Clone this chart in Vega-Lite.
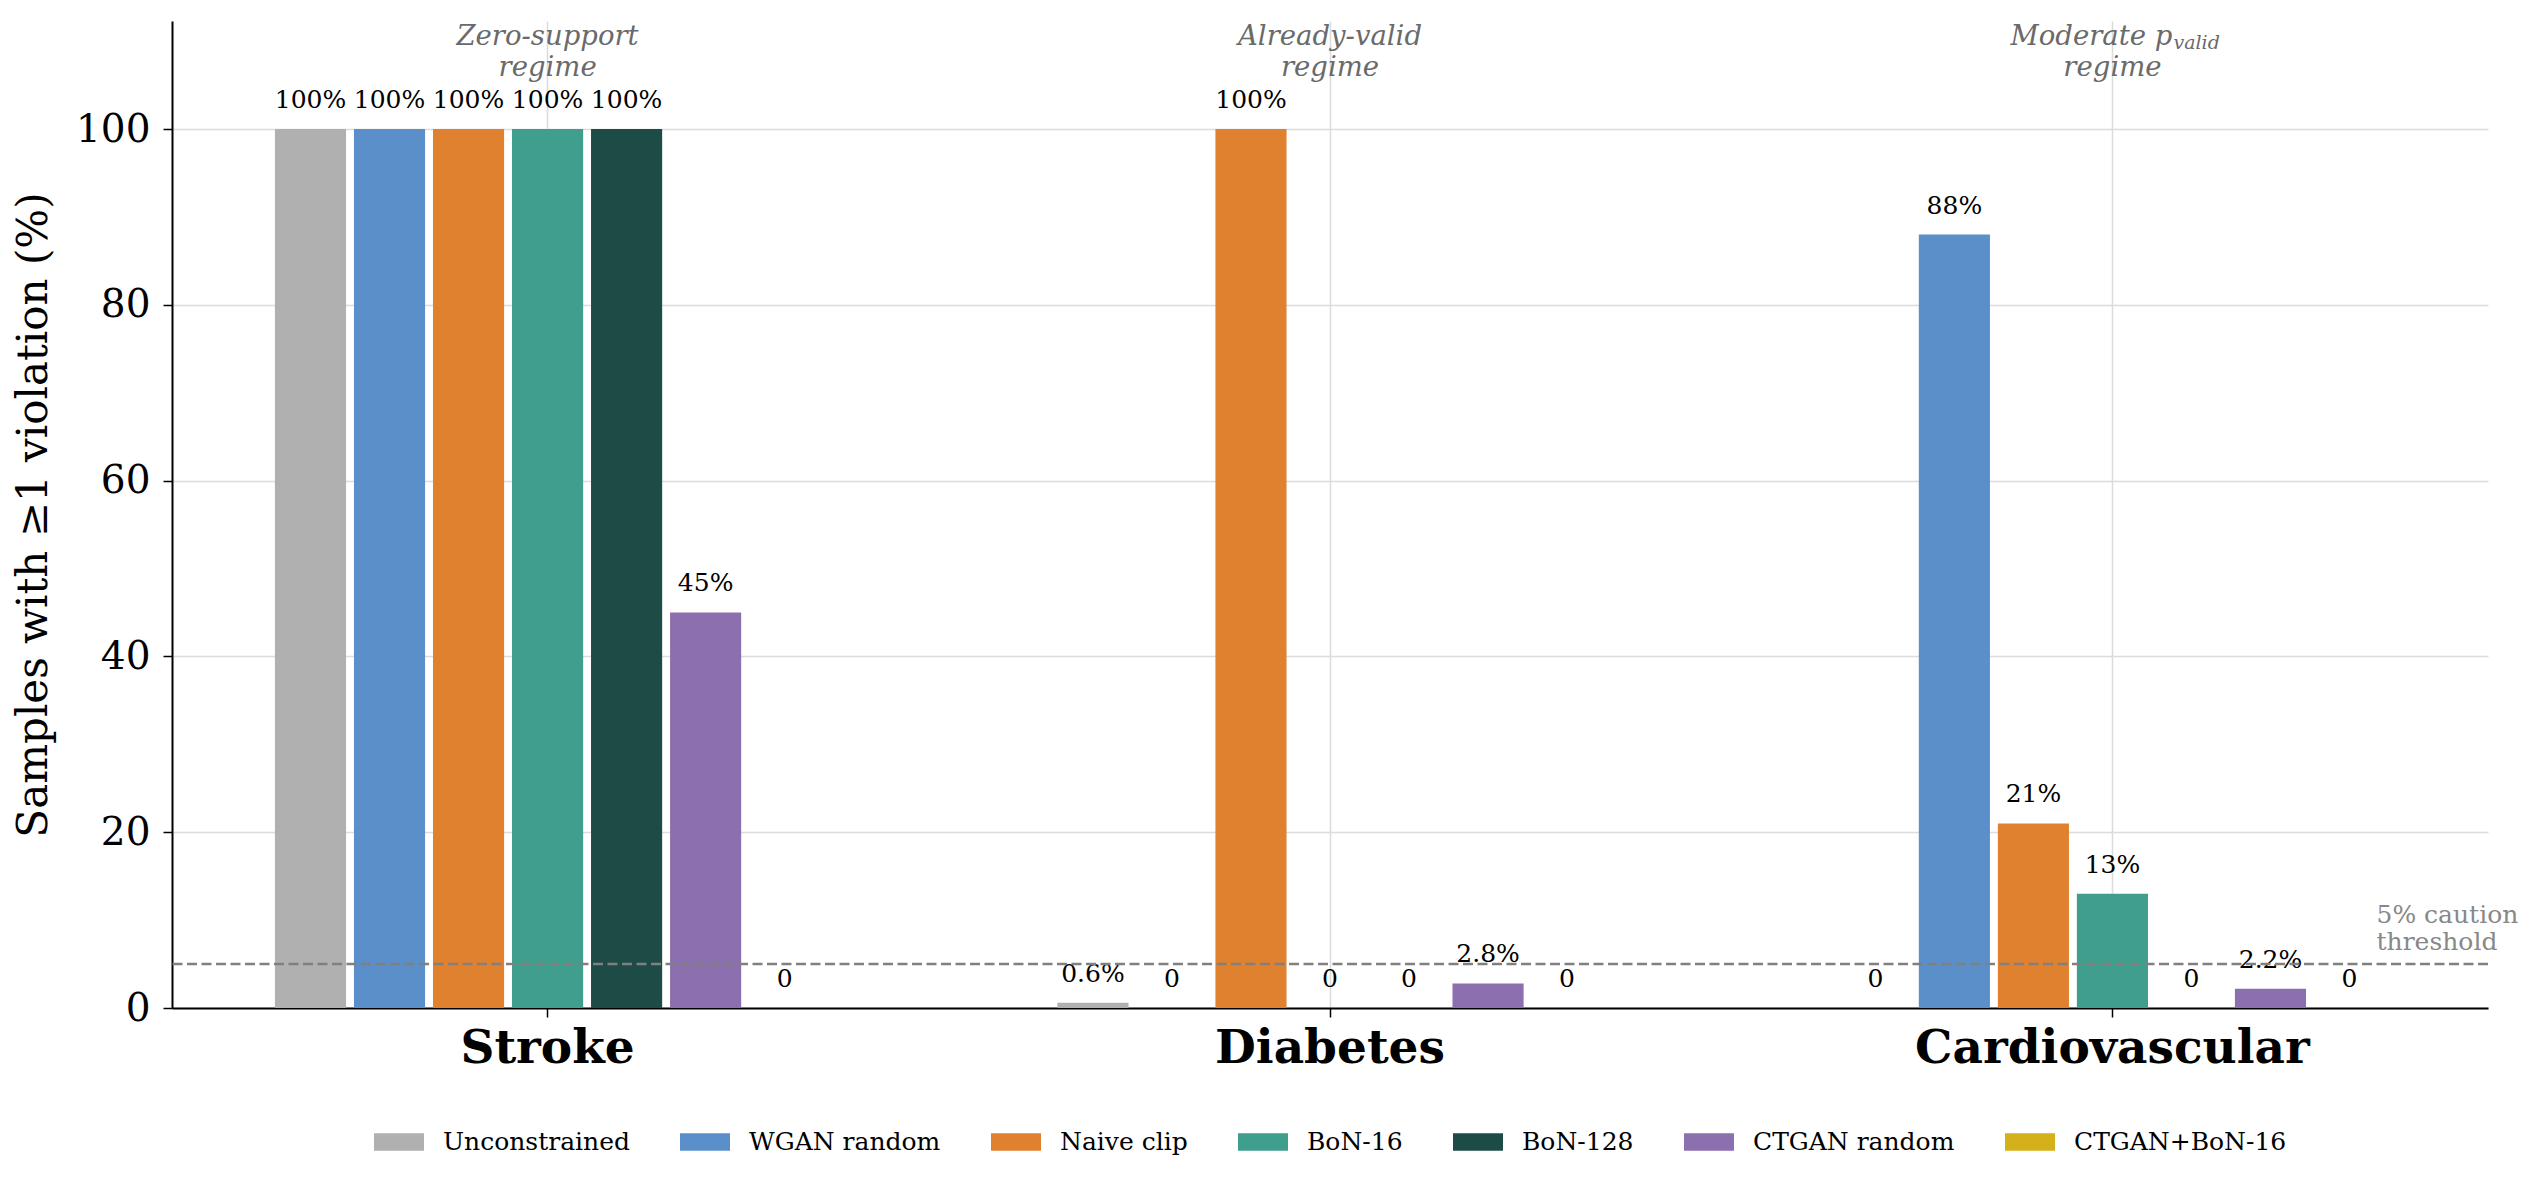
{
  "$schema": "https://vega.github.io/schema/vega-lite/v6.json",
  "width": 2316,
  "height": 987,
  "autosize": {"type": "none"},
  "padding": {"left": 172, "top": 21, "right": 49, "bottom": 174},
  "background": "white",
  "config": {
    "font": "DejaVu Serif",
    "view": {"stroke": null},
    "axis": {"domainColor": "black", "domainWidth": 2, "tickColor": "black", "tickWidth": 1.5, "tickSize": 9, "gridColor": "#dcdcdc", "gridWidth": 1.6, "labelColor": "black", "titleColor": "black", "labelLimit": 2000},
    "legend": {"layout": {"bottom": {"anchor": "middle"}}}
  },
  "datasets": {
    "rates": [
      {"dataset": "Stroke", "method": "Unconstrained", "value": 100, "label": "100%"},
      {"dataset": "Stroke", "method": "WGAN random", "value": 100, "label": "100%"},
      {"dataset": "Stroke", "method": "Naive clip", "value": 100, "label": "100%"},
      {"dataset": "Stroke", "method": "BoN-16", "value": 100, "label": "100%"},
      {"dataset": "Stroke", "method": "BoN-128", "value": 100, "label": "100%"},
      {"dataset": "Stroke", "method": "CTGAN random", "value": 45, "label": "45%"},
      {"dataset": "Stroke", "method": "CTGAN+BoN-16", "value": 0, "label": "0"},
      {"dataset": "Diabetes", "method": "Unconstrained", "value": 0.6, "label": "0.6%"},
      {"dataset": "Diabetes", "method": "WGAN random", "value": 0, "label": "0"},
      {"dataset": "Diabetes", "method": "Naive clip", "value": 100, "label": "100%"},
      {"dataset": "Diabetes", "method": "BoN-16", "value": 0, "label": "0"},
      {"dataset": "Diabetes", "method": "BoN-128", "value": 0, "label": "0"},
      {"dataset": "Diabetes", "method": "CTGAN random", "value": 2.8, "label": "2.8%"},
      {"dataset": "Diabetes", "method": "CTGAN+BoN-16", "value": 0, "label": "0"},
      {"dataset": "Cardiovascular", "method": "Unconstrained", "value": 0, "label": "0"},
      {"dataset": "Cardiovascular", "method": "WGAN random", "value": 88, "label": "88%"},
      {"dataset": "Cardiovascular", "method": "Naive clip", "value": 21, "label": "21%"},
      {"dataset": "Cardiovascular", "method": "BoN-16", "value": 13, "label": "13%"},
      {"dataset": "Cardiovascular", "method": "BoN-128", "value": 0, "label": "0"},
      {"dataset": "Cardiovascular", "method": "CTGAN random", "value": 2.2, "label": "2.2%"},
      {"dataset": "Cardiovascular", "method": "CTGAN+BoN-16", "value": 0, "label": "0"}
    ],
    "regimes": [
      {"dataset": "Stroke", "text": "Zero-support\nregime"},
      {"dataset": "Diabetes", "text": "Already-valid\nregime"},
      {"dataset": "Cardiovascular", "text": "Moderate p", "sub": "valid", "line2": "regime"}
    ]
  },
  "layer": [
    {
      "data": {"name": "rates"},
      "mark": {"type": "bar"},
      "encoding": {
        "x": {
          "field": "dataset", "type": "nominal",
          "scale": {"domain": ["Stroke", "Diabetes", "Cardiovascular"], "paddingInner": 0.293, "paddingOuter": 0.1265},
          "axis": {"title": null, "labelAngle": 0, "labelFontSize": 47, "labelFontWeight": "bold", "labelPadding": 8, "grid": true}
        },
        "xOffset": {
          "field": "method", "type": "nominal",
          "scale": {"domain": ["Unconstrained", "WGAN random", "Naive clip", "BoN-16", "BoN-128", "CTGAN random", "CTGAN+BoN-16"], "paddingInner": 0.1, "paddingOuter": 0.05}
        },
        "y": {
          "field": "value", "type": "quantitative",
          "scale": {"domain": [0, 112.3], "nice": false},
          "axis": {"values": [0, 20, 40, 60, 80, 100], "title": "Samples with ≥1 violation (%)", "titleFontSize": 42, "titleFontWeight": "normal", "titlePadding": 20, "labelFontSize": 39, "labelPadding": 13, "grid": true}
        },
        "color": {
          "field": "method", "type": "nominal",
          "scale": {
            "domain": ["Unconstrained", "WGAN random", "Naive clip", "BoN-16", "BoN-128", "CTGAN random", "CTGAN+BoN-16"],
            "range": ["#b0b0b0", "#5b8fc9", "#e0812f", "#409e8e", "#1d4b45", "#8c6fae", "#d4b11a"]
          },
          "legend": {"orient": "bottom", "direction": "horizontal", "title": null, "symbolType": "M-1,-0.35H1V0.35H-1Z", "symbolSize": 2500, "symbolStrokeWidth": 0, "symbolOpacity": 1, "labelFontSize": 25, "labelColor": "black", "labelLimit": 2000, "columnPadding": 50, "labelOffset": 19, "offset": 46}
        }
      }
    },
    {
      "data": {"name": "rates"},
      "mark": {"type": "text", "baseline": "alphabetic", "dy": -21, "fontSize": 25, "color": "black"},
      "encoding": {
        "x": {"field": "dataset", "type": "nominal"},
        "xOffset": {"field": "method", "type": "nominal"},
        "y": {"field": "value", "type": "quantitative"},
        "text": {"field": "label"}
      }
    },
    {
      "data": {"values": [{"threshold": 5}]},
      "mark": {"type": "rule", "color": "#808080", "strokeWidth": 2.6, "strokeDash": [10, 4.5]},
      "encoding": {"y": {"field": "threshold", "type": "quantitative"}}
    },
    {
      "data": {"values": [{"dataset": "Cardiovascular", "method": "CTGAN+BoN-16", "threshold": 5, "note": "5% caution\nthreshold"}]},
      "mark": {"type": "text", "align": "left", "baseline": "alphabetic", "dx": 27, "dy": -41, "lineBreak": "\n", "lineHeight": 27, "fontSize": 25, "color": "#888888"},
      "encoding": {
        "x": {"field": "dataset", "type": "nominal"},
        "xOffset": {"field": "method", "type": "nominal"},
        "y": {"field": "threshold", "type": "quantitative"},
        "text": {"field": "note"}
      }
    },
    {
      "data": {"name": "regimes"},
      "transform": [{"filter": "datum.dataset !== 'Cardiovascular'"}],
      "mark": {"type": "text", "align": "center", "baseline": "alphabetic", "dy": -84, "lineBreak": "\n", "lineHeight": 31, "fontSize": 27.5, "fontStyle": "italic", "color": "#6a6a6a"},
      "encoding": {
        "x": {"field": "dataset", "type": "nominal"},
        "y": {"datum": 100},
        "text": {"field": "text"}
      }
    },
    {
      "data": {"name": "regimes"},
      "transform": [{"filter": "datum.dataset === 'Cardiovascular'"}],
      "mark": {"type": "text", "align": "right", "baseline": "alphabetic", "dx": 60, "dy": -84, "fontSize": 27.5, "fontStyle": "italic", "color": "#6a6a6a"},
      "encoding": {
        "x": {"field": "dataset", "type": "nominal"},
        "y": {"datum": 100},
        "text": {"field": "text"}
      }
    },
    {
      "data": {"name": "regimes"},
      "transform": [{"filter": "datum.dataset === 'Cardiovascular'"}],
      "mark": {"type": "text", "align": "left", "baseline": "alphabetic", "dx": 61, "dy": -80, "fontSize": 19, "fontStyle": "italic", "color": "#6a6a6a"},
      "encoding": {
        "x": {"field": "dataset", "type": "nominal"},
        "y": {"datum": 100},
        "text": {"field": "sub"}
      }
    },
    {
      "data": {"name": "regimes"},
      "transform": [{"filter": "datum.dataset === 'Cardiovascular'"}],
      "mark": {"type": "text", "align": "center", "baseline": "alphabetic", "dy": -53, "fontSize": 27.5, "fontStyle": "italic", "color": "#6a6a6a"},
      "encoding": {
        "x": {"field": "dataset", "type": "nominal"},
        "y": {"datum": 100},
        "text": {"field": "line2"}
      }
    }
  ]
}
